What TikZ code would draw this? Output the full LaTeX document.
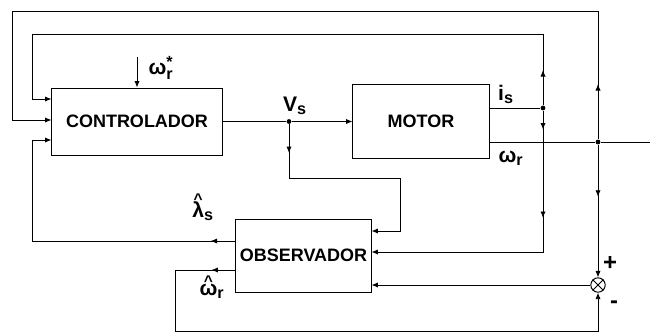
\documentclass[tikz,border=0pt]{standalone}
\usepackage{amsmath,amssymb}
\usepackage{fontspec}
\setmainfont{Liberation Sans}
\usetikzlibrary{arrows.meta,positioning,calc,decorations.markings}
\DeclareMathSizes{15}{15}{11.5}{9}
\newcommand{\bsym}[1]{\text{\textbf{#1}}}
\newcommand{\hatsym}[1]{\text{\setbox0\hbox{\textbf{#1}}%
  \rlap{\hbox to\wd0{\hss\raisebox{\dimexpr\ht0-2.2pt\relax}[0pt][0pt]{%
  \fontsize{11}{11}\selectfont\textbf{\^{}}}\hss}}\box0}}
\tikzset{
  block/.style={draw,rectangle,inner sep=0pt,line width=0.7pt,
    font=\fontsize{12.8}{14}\selectfont\bfseries},
  sumnode/.style={draw,circle,minimum size=0.36cm,inner sep=0pt,line width=0.7pt},
  dot/.style={circle,fill,inner sep=0pt,minimum size=1.2mm},
  wire/.style={line width=0.6pt},
  arrow/.style={-{Latex[length=1.6mm,width=1.3mm]},line width=0.6pt},
  midarrow/.style={postaction={decorate,decoration={markings,
    mark=at position #1 with {\arrow{Latex[length=1.6mm,width=1.3mm]}}}}},
  labelstyle/.style={font=\fontsize{15}{17}\selectfont,inner sep=0pt}
}
\begin{document}
\begin{tikzpicture}[x=0.025cm,y=-0.025cm]
  \useasboundingbox (0,0) rectangle (650,335);
  % blocks
  \node[block,minimum width=4.25cm,minimum height=1.675cm] (ctrl) at (137,121.5) {CONTROLADOR};
  \node[block,minimum width=3.4cm,minimum height=1.85cm] (motor) at (421,121.5) {MOTOR};
  \node[block,minimum width=3.375cm,minimum height=1.825cm] (obs) at (303.5,255.5) {OBSERVADOR};
  \node[sumnode] (sum) at (598,285) {};
  \draw[wire] (sum.north west) -- (sum.south east) (sum.north east) -- (sum.south west);
  % junctions and corners
  \node[dot] (vs) at (289,121.5) {};
  \node[dot] (is) at (543,108) {};
  \node[dot] (wr) at (598,142) {};
  \coordinate (ref) at (137,57);
  \coordinate (out) at (650,142);
  \coordinate (vsr) at (400,178);
  \coordinate (outer) at (12,11);
  \coordinate (inner) at (32,34);
  \coordinate (lsc) at (32,140);
  \coordinate (whc) at (175,331);
  % forward path
  \draw[arrow] (ref) -- (ctrl.north);
  \draw[wire] (ctrl.east) -- (vs);
  \draw[arrow] (vs) -- (motor.west);
  \draw[wire] (motor.east |- is) -- (is);
  \draw[wire] (motor.east |- wr) -- (wr) -- (out);
  % measurements
  \draw[arrow,midarrow=0.72cm] (vs) |- (vsr) |- (obs.east |- 0,231);
  \draw[arrow,midarrow=0.88cm] (is) |- (inner) |- (ctrl.west |- 0,99);
  \draw[arrow,midarrow=0.47cm,midarrow=2.68cm] (is) |- (obs.east |- 0,252);
  \draw[arrow,midarrow=1.38cm] (wr) |- (outer) |- (ctrl.west |- 0,120);
  \draw[arrow,midarrow=1.3cm] (wr) -- (sum.north);
  \draw[arrow] (sum.west) -- (obs.east |- sum);
  % estimates
  \draw[arrow,midarrow=0.62cm] (obs.west |- 0,241) -| (lsc) -- (ctrl.west |- lsc);
  \draw[arrow,midarrow=0.6cm] (obs.west |- 0,270) -| (whc) -| (sum.south);
  % labels
  \node[labelstyle] (wrefl) at (161,68) {$\bsym{ω}_{\bsym{r}}^{\bsym{*}}$};
  \node[labelstyle] (vsl) at (295,106) {$\bsym{V}_{\bsym{s}}$};
  \node[labelstyle] (isl) at (506,94) {$\bsym{i}_{\bsym{s}}$};
  \node[labelstyle] (wrl) at (511,158) {$\bsym{ω}_{\bsym{r}}$};
  \node[labelstyle] (lsl) at (203,211) {$\hatsym{λ}_{\bsym{s}}$};
  \node[labelstyle] (whl) at (212,291) {$\hatsym{ω}_{\bsym{r}}$};
  \node[labelstyle,font=\fontsize{17}{17}\selectfont\bfseries] (plus) at (610,263) {+};
  \node[labelstyle,font=\fontsize{17}{17}\selectfont\bfseries] (minus) at (614,305) {-};
\end{tikzpicture}
\end{document}
